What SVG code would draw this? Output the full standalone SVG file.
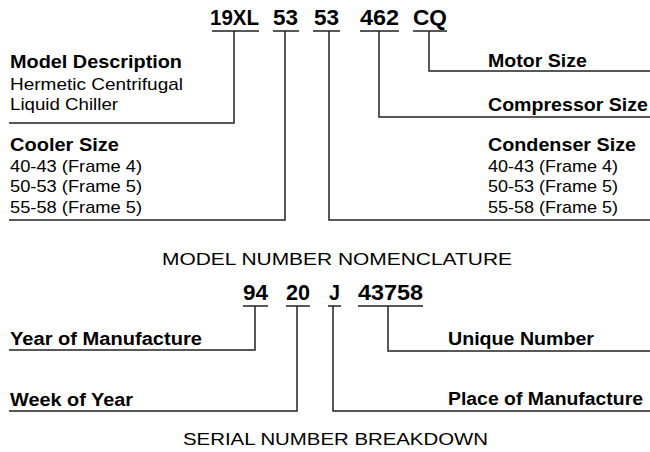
<svg xmlns="http://www.w3.org/2000/svg" width="650" height="452" viewBox="0 0 650 452">
<style>
.code{font-family:"Liberation Sans",Arial,sans-serif;font-weight:bold;font-size:22px;fill:#000}
.lb{font-family:"Liberation Sans",Arial,sans-serif;font-weight:bold;font-size:17.5px;fill:#000}
.lr{font-family:"Liberation Sans",Arial,sans-serif;font-size:17px;fill:#000}
.ttl{font-family:"Liberation Sans",Arial,sans-serif;font-size:17px;fill:#000}
.ln{fill:none;stroke:#222;stroke-width:1.5}
</style>
<rect width="650" height="452" fill="#fff"/>
<g id="model-code">
<text class="code" x="210" y="25" textLength="49" lengthAdjust="spacingAndGlyphs">19XL</text>
<text class="code" x="273" y="25" textLength="25" lengthAdjust="spacingAndGlyphs">53</text>
<text class="code" x="314" y="25" textLength="25" lengthAdjust="spacingAndGlyphs">53</text>
<text class="code" x="360" y="25" textLength="39" lengthAdjust="spacingAndGlyphs">462</text>
<text class="code" x="413" y="25" textLength="34" lengthAdjust="spacingAndGlyphs">CQ</text>
</g>
<g id="model-description">
<text class="lb" x="10" y="68" textLength="172" lengthAdjust="spacingAndGlyphs">Model Description</text>
<text class="lr" x="10" y="90" textLength="173" lengthAdjust="spacingAndGlyphs">Hermetic Centrifugal</text>
<text class="lr" x="10" y="110" textLength="108" lengthAdjust="spacingAndGlyphs">Liquid Chiller</text>
</g>
<g id="cooler-size">
<text class="lb" x="10" y="151" textLength="109" lengthAdjust="spacingAndGlyphs">Cooler Size</text>
<text class="lr" x="10" y="172" textLength="132" lengthAdjust="spacingAndGlyphs">40-43 (Frame 4)</text>
<text class="lr" x="10" y="192" textLength="132" lengthAdjust="spacingAndGlyphs">50-53 (Frame 5)</text>
<text class="lr" x="10" y="213" textLength="132" lengthAdjust="spacingAndGlyphs">55-58 (Frame 5)</text>
</g>
<g id="motor-size">
<text class="lb" x="488" y="67" textLength="99" lengthAdjust="spacingAndGlyphs">Motor Size</text>
</g>
<g id="compressor-size">
<text class="lb" x="488" y="111" textLength="160" lengthAdjust="spacingAndGlyphs">Compressor Size</text>
</g>
<g id="condenser-size">
<text class="lb" x="488" y="151" textLength="148" lengthAdjust="spacingAndGlyphs">Condenser Size</text>
<text class="lr" x="488" y="172" textLength="130" lengthAdjust="spacingAndGlyphs">40-43 (Frame 4)</text>
<text class="lr" x="488" y="192" textLength="130" lengthAdjust="spacingAndGlyphs">50-53 (Frame 5)</text>
<text class="lr" x="488" y="213" textLength="130" lengthAdjust="spacingAndGlyphs">55-58 (Frame 5)</text>
</g>
<g id="model-title">
<text class="ttl" x="162" y="265" textLength="350" lengthAdjust="spacingAndGlyphs">MODEL NUMBER NOMENCLATURE</text>
</g>
<g id="serial-code">
<text class="code" x="243" y="300" textLength="25" lengthAdjust="spacingAndGlyphs">94</text>
<text class="code" x="286" y="300" textLength="24" lengthAdjust="spacingAndGlyphs">20</text>
<text class="code" x="329" y="300" textLength="11" lengthAdjust="spacingAndGlyphs">J</text>
<text class="code" x="358" y="300" textLength="65" lengthAdjust="spacingAndGlyphs">43758</text>
</g>
<g id="year-of-manufacture">
<text class="lb" x="10" y="345" textLength="192" lengthAdjust="spacingAndGlyphs">Year of Manufacture</text>
</g>
<g id="week-of-year">
<text class="lb" x="10" y="406" textLength="123" lengthAdjust="spacingAndGlyphs">Week of Year</text>
</g>
<g id="unique-number">
<text class="lb" x="448" y="345" textLength="146" lengthAdjust="spacingAndGlyphs">Unique Number</text>
</g>
<g id="place-of-manufacture">
<text class="lb" x="448" y="405" textLength="195" lengthAdjust="spacingAndGlyphs">Place of Manufacture</text>
</g>
<g id="serial-title">
<text class="ttl" x="183" y="445" textLength="305" lengthAdjust="spacingAndGlyphs">SERIAL NUMBER BREAKDOWN</text>
</g>
<g id="connectors">
<path class="ln" d="M212 31H259M234 31V123H9"/>
<path class="ln" d="M273 31H299M285 31V220H9"/>
<path class="ln" d="M313 31H340M329 31V220H650"/>
<path class="ln" d="M360 31H399M379 31V117H650"/>
<path class="ln" d="M413 31H447M429 31V71H650"/>
<path class="ln" d="M243 306H268M255 306V350H9"/>
<path class="ln" d="M286 306H310M297 306V411H9"/>
<path class="ln" d="M328 306H341M333 306V411H650"/>
<path class="ln" d="M358 306H423M388 306V351H650"/>
</g>
</svg>
